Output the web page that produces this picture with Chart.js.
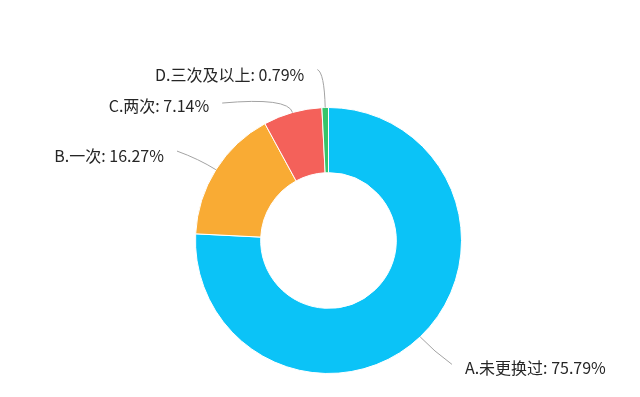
<!DOCTYPE html>
<html>
<head>
<meta charset="utf-8">
<script src="https://cdn.jsdelivr.net/npm/chart.js@4.4.1/dist/chart.umd.min.js"></script>
<style>
  html, body { margin: 0; padding: 0; background: #ffffff; }
  canvas { display: block; }
</style>
</head>
<body>
<canvas id="chartRing" width="640" height="397"></canvas>
<script>
// datos
const categorias = ['A.未更换过', 'B.一次', 'C.两次', 'D.三次及以上'];
const porcentajes = [75.79, 16.27, 7.14, 0.79];
const colores = ['#0bc3f7', '#f9ab34', '#f4615a', '#35c46a'];

// lineas guia: largo radial, luego desplazamiento hasta el texto
const guias = [
    { len: 20, dx: 18, dy: 13, ty: 4 },
    { len: 20, dx: -22, dy: -8, ty: 5 },
    { len: 16, dx: -66, dy: 6, ty: 3 },
    { len: 35, dx: -7, dy: -3, ty: 5 }
];

// plugin para las etiquetas con linea (estilo callout)
const etiquetasPlugin = {
    id: 'etiquetas',
    afterDatasetsDraw(chart) {
        const ctx = chart.ctx;
        const meta = chart.getDatasetMeta(0);
        ctx.save();
        ctx.font = '16px "Microsoft YaHei", "Noto Sans CJK SC", sans-serif';
        ctx.textBaseline = 'middle';
        meta.data.forEach((arc, i) => {
            const p = arc.getProps(['x', 'y', 'startAngle', 'endAngle', 'outerRadius'], true);
            const mid = (p.startAngle + p.endAngle) / 2;
            const cos = Math.cos(mid), sin = Math.sin(mid);
            const g = guias[i];
            const x0 = p.x + p.outerRadius * cos;
            const y0 = p.y + p.outerRadius * sin;
            const x1 = x0 + g.len * cos;
            const y1 = y0 + g.len * sin;
            const x2 = x1 + g.dx;
            const y2 = y1 + g.dy;

            ctx.strokeStyle = '#a3a3a3';
            ctx.lineWidth = 1;
            ctx.beginPath();
            ctx.moveTo(x0, y0);
            ctx.quadraticCurveTo(x1, y1, x2, y2);
            ctx.stroke();

            const derecha = g.dx > 0;
            ctx.textAlign = derecha ? 'left' : 'right';
            ctx.fillStyle = '#262626';
            const texto = categorias[i] + ': ' + porcentajes[i].toFixed(2) + '%';
            ctx.fillText(texto, x2 + (derecha ? 13 : -13), y2 + g.ty);
        });
        ctx.restore();
    }
};

new Chart(document.getElementById('chartRing'), {
    type: 'doughnut',
    data: {
        labels: categorias,
        datasets: [{
            data: porcentajes,
            backgroundColor: colores,
            borderColor: '#ffffff',
            borderWidth: 1
        }]
    },
    options: {
        responsive: false,
        animation: false,
        cutout: '51%',
        layout: { padding: { left: 195, right: 178, top: 107, bottom: 23 } },
        plugins: {
            legend: { display: false },
            tooltip: { enabled: false }
        }
    },
    plugins: [etiquetasPlugin]
});
</script>
</body>
</html>
